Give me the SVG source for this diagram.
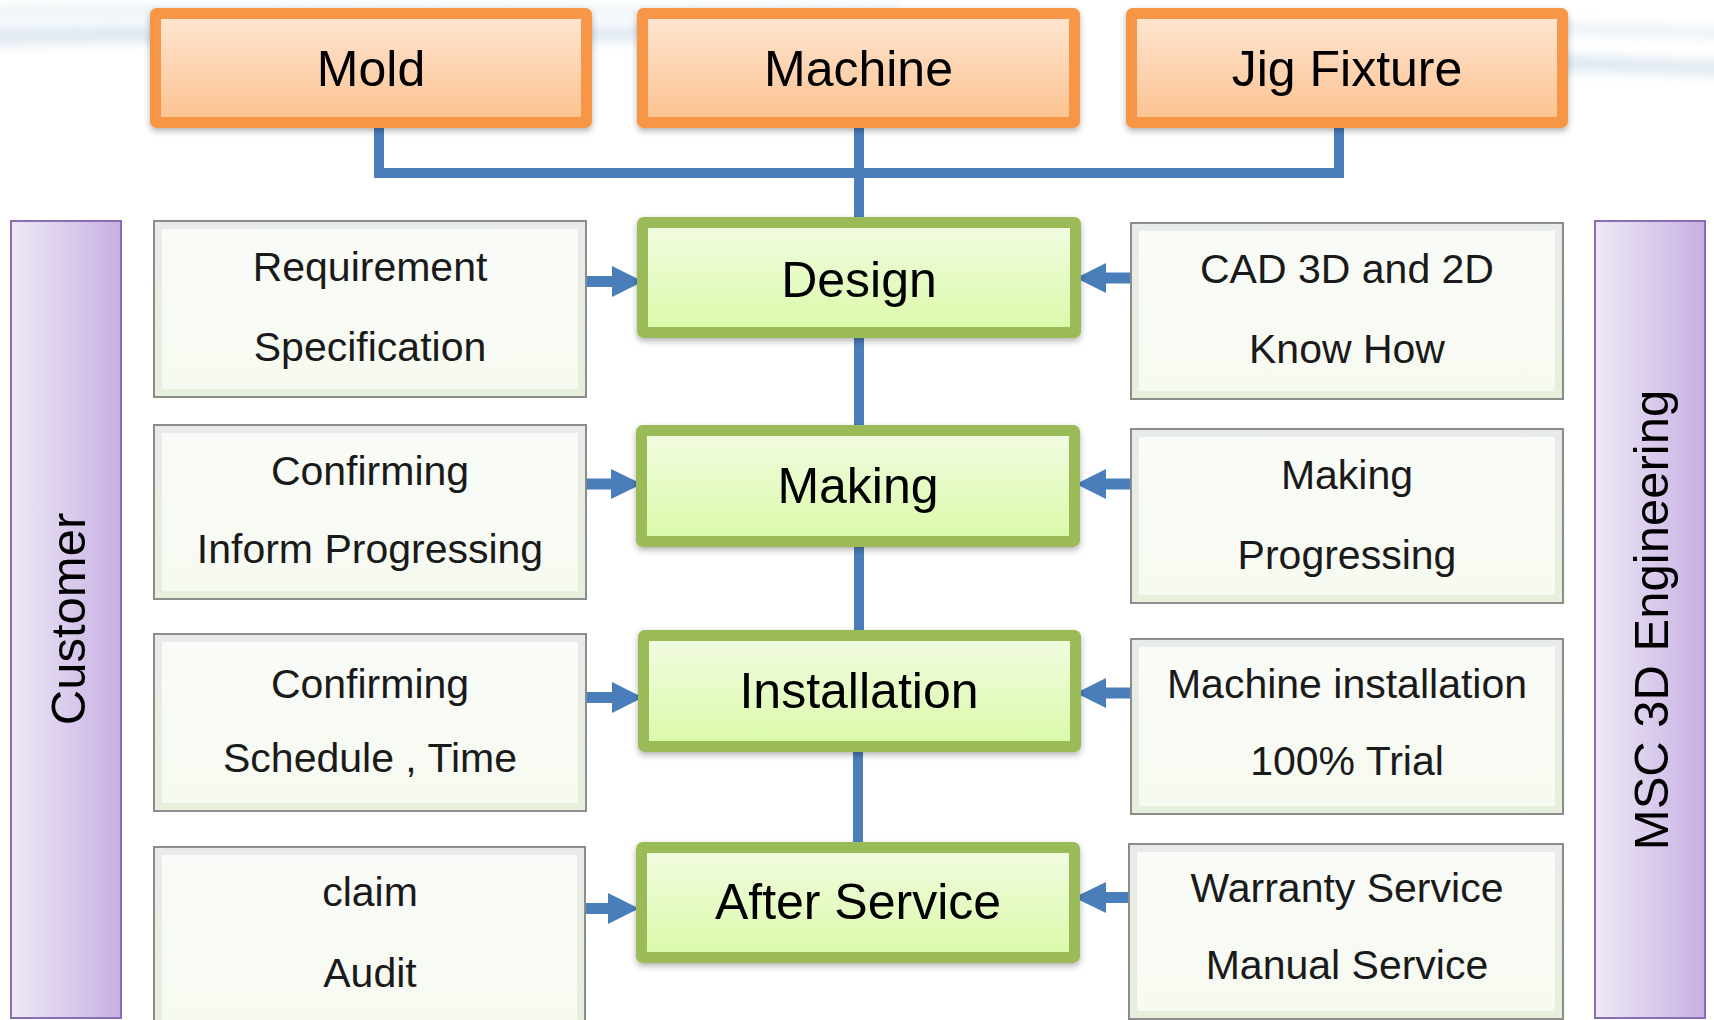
<svg xmlns="http://www.w3.org/2000/svg" width="1714" height="1020" viewBox="0 0 1714 1020">
<defs>
<linearGradient id="gOrange" x1="0" y1="0" x2="0" y2="1">
<stop offset="0" stop-color="#fee6d3"/><stop offset="1" stop-color="#fcc28f"/>
</linearGradient>
<linearGradient id="gGreen" x1="0" y1="0" x2="0" y2="1">
<stop offset="0" stop-color="#f2fbe2"/><stop offset="1" stop-color="#dafaa8"/>
</linearGradient>
<linearGradient id="gPurple" x1="0" y1="0" x2="1" y2="0">
<stop offset="0" stop-color="#efe9f7"/><stop offset="1" stop-color="#c6b0e2"/>
</linearGradient>
<linearGradient id="gBevel" x1="0" y1="0" x2="0" y2="1">
<stop offset="0" stop-color="#e8ebe8"/><stop offset="1" stop-color="#e6f0dc"/>
</linearGradient>
<linearGradient id="gInner" x1="0" y1="0" x2="0" y2="1">
<stop offset="0" stop-color="#f9fbf8"/><stop offset="1" stop-color="#f6faf0"/>
</linearGradient>
<filter id="shadow" x="-5%" y="-10%" width="110%" height="130%">
<feDropShadow dx="0" dy="3" stdDeviation="3" flood-color="#000" flood-opacity="0.3"/>
</filter>
<filter id="blur" x="-10%" y="-100%" width="120%" height="300%">
<feGaussianBlur stdDeviation="6"/>
</filter>
</defs>
<style>
.orange{fill:url(#gOrange);stroke:#f79646;stroke-width:11;stroke-linejoin:round;filter:url(#shadow)}
.green{fill:url(#gGreen);stroke:#9bbb59;stroke-width:11;stroke-linejoin:round;filter:url(#shadow)}
.purple{fill:url(#gPurple);stroke:#8a6db3;stroke-width:2}
.bevel{fill:url(#gBevel);stroke:#8c8c8c;stroke-width:2}
.inner{fill:url(#gInner);stroke:none}
.big{font-family:"Liberation Sans",Arial,sans-serif;font-size:50px;fill:#000;text-anchor:middle}
.side{font-family:"Liberation Sans",Arial,sans-serif;font-size:49px;fill:#000;text-anchor:middle}
.txt{font-family:"Liberation Sans",Arial,sans-serif;font-size:41px;fill:#1a1a1a;text-anchor:middle}
.line{stroke:#4a7ebb;stroke-width:10;fill:none}
.arrow{fill:#4a7ebb}
</style>
<rect width="1714" height="1020" fill="#fff"/>
<g id="background" filter="url(#blur)" opacity="0.8">
<path d="M-20,28 C150,22 400,30 700,26 L700,40 C400,44 150,40 -20,46 Z" fill="#d6e3ee"/>
<path d="M-20,8 C200,4 500,10 900,6 L900,14 C500,18 200,14 -20,18 Z" fill="#e3ecf3"/>
<path d="M1300,48 C1450,50 1600,58 1740,62 L1740,76 C1600,72 1450,64 1300,62 Z" fill="#d3e0ec"/>
<path d="M1400,20 C1520,22 1620,26 1740,28 L1740,38 C1620,36 1520,32 1400,30 Z" fill="#e2ebf2"/>
</g>
<g id="connectors">
<path class="line" d="M379,126 V173 H1339 V126"/>
<line class="line" x1="859" y1="126" x2="859" y2="222"/>
<line class="line" x1="859" y1="333" x2="859" y2="431"/>
<line class="line" x1="859" y1="542" x2="859" y2="636"/>
<line class="line" x1="858" y1="746" x2="858" y2="848"/>
<polygon class="arrow" points="587,276 612,276 612,266 643,281.5 612,297 612,287 587,287"/>
<polygon class="arrow" points="586,478.5 611,478.5 611,469 642,484 611,499 611,489.5 586,489.5"/>
<polygon class="arrow" points="586,692 612,692 612,682 643,697.5 612,713 612,703 586,703"/>
<polygon class="arrow" points="585,903 608,903 608,893 639,908.5 608,924 608,914 585,914"/>
<polygon class="arrow" points="1131,272.5 1106,272.5 1106,263 1076,278 1106,293 1106,283.5 1131,283.5"/>
<polygon class="arrow" points="1131,478.5 1106,478.5 1106,469 1076,484 1106,499 1106,489.5 1131,489.5"/>
<polygon class="arrow" points="1131,687.5 1106,687.5 1106,678 1076,693 1106,708 1106,698.5 1131,698.5"/>
<polygon class="arrow" points="1129,892 1106,892 1106,882 1074,897.5 1106,913 1106,903 1129,903"/>
</g>
<g id="mold"><rect class="orange" x="155.5" y="13.5" width="431" height="109" rx="1"/><text class="big" x="371" y="86">Mold</text></g>
<g id="machine"><rect class="orange" x="642.5" y="13.5" width="432" height="109" rx="1"/><text class="big" x="858.5" y="86">Machine</text></g>
<g id="jig"><rect class="orange" x="1131.5" y="13.5" width="431" height="109" rx="1"/><text class="big" x="1347" y="86">Jig Fixture</text></g>
<g id="customer"><rect class="purple" x="11" y="221" width="110" height="797"/><text class="side" transform="translate(85,619) rotate(-90)">Customer</text></g>
<g id="msc"><rect class="purple" x="1595" y="221" width="110" height="797"/><text class="side" transform="translate(1668,620) rotate(-90)">MSC 3D Engineering</text></g>
<g id="design"><rect class="green" x="642.5" y="222.5" width="433" height="110" rx="1"/><text class="big" x="859" y="297">Design</text></g>
<g id="making"><rect class="green" x="641.5" y="430.5" width="433" height="111" rx="1"/><text class="big" x="858" y="503">Making</text></g>
<g id="installation"><rect class="green" x="643.5" y="635.5" width="432" height="111" rx="1"/><text class="big" x="859" y="708">Installation</text></g>
<g id="after-service"><rect class="green" x="641.5" y="847.5" width="433" height="110" rx="1"/><text class="big" x="858" y="919">After Service</text></g>
<g id="req"><rect class="bevel" x="154" y="221" width="432" height="176"/><rect class="inner" x="162" y="229" width="416" height="160"/><text class="txt" x="370" y="281">Requirement</text><text class="txt" x="370" y="361">Specification</text></g>
<g id="confirm1"><rect class="bevel" x="154" y="425" width="432" height="174"/><rect class="inner" x="162" y="433" width="416" height="158"/><text class="txt" x="370" y="485">Confirming</text><text class="txt" x="370" y="563">Inform Progressing</text></g>
<g id="confirm2"><rect class="bevel" x="154" y="634" width="432" height="177"/><rect class="inner" x="162" y="642" width="416" height="161"/><text class="txt" x="370" y="698">Confirming</text><text class="txt" x="370" y="772">Schedule , Time</text></g>
<g id="claim"><rect class="bevel" x="154" y="847" width="431" height="180"/><rect class="inner" x="162" y="855" width="415" height="172"/><text class="txt" x="370" y="906">claim</text><text class="txt" x="370" y="987">Audit</text></g>
<g id="cad"><rect class="bevel" x="1131" y="223" width="432" height="176"/><rect class="inner" x="1139" y="231" width="416" height="160"/><text class="txt" x="1347" y="283">CAD 3D and 2D</text><text class="txt" x="1347" y="363">Know How</text></g>
<g id="making-prog"><rect class="bevel" x="1131" y="429" width="432" height="174"/><rect class="inner" x="1139" y="437" width="416" height="158"/><text class="txt" x="1347" y="489">Making</text><text class="txt" x="1347" y="569">Progressing</text></g>
<g id="machine-inst"><rect class="bevel" x="1131" y="639" width="432" height="175"/><rect class="inner" x="1139" y="647" width="416" height="159"/><text class="txt" x="1347" y="698">Machine installation</text><text class="txt" x="1347" y="775">100% Trial</text></g>
<g id="warranty"><rect class="bevel" x="1129" y="844" width="434" height="175"/><rect class="inner" x="1137" y="852" width="418" height="159"/><text class="txt" x="1347" y="902">Warranty Service</text><text class="txt" x="1347" y="979">Manual Service</text></g>
</svg>
